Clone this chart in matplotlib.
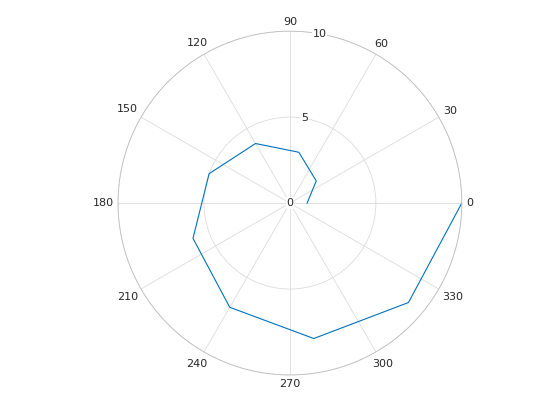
import numpy as np
import matplotlib
matplotlib.use("Agg")
import matplotlib.pyplot as plt

theta_deg = [0, 40, 80, 120, 160, 200, 240, 280, 320, 360]
r_vals = [1, 2, 3, 4, 5, 6, 7, 8, 9, 10]
theta_ticks = [0, 30, 60, 90, 120, 150, 180, 210, 240, 270, 300, 330]
r_ticks = [0, 5, 10]
r_label_angle = 80

fig = plt.figure(figsize=(5.6, 4.2), dpi=100)
ax = fig.add_axes([0.2107, 0.107, 0.614, 0.819], projection='polar')
ax.plot(np.deg2rad(theta_deg), r_vals, color='#0072BD', lw=0.8)
ax.set_ylim(0, 10)
ax.set_yticks(r_ticks)
ax.set_yticklabels([])
for t in r_ticks:
    ax.text(np.deg2rad(r_label_angle), t, str(t), fontsize=8, color='#262626',
            ha='center', va='center', zorder=5,
            bbox=dict(facecolor='white', edgecolor='none', pad=0.5))
ax.set_xticks(np.deg2rad(theta_ticks))
ax.set_xticklabels([])
ax.grid(True, color='#dcdcdc', lw=0.6)
ax.spines['polar'].set_color('#bdbdbd')
ax.spines['polar'].set_linewidth(0.6)

fig.canvas.draw()
renderer = fig.canvas.get_renderer()
gap = 4.5
for t in theta_ticks:
    a = np.deg2rad(t)
    txt = ax.annotate(str(t), xy=(a, ax.get_ylim()[1]), xytext=(0, 0),
                      textcoords='offset pixels', fontsize=8, color='#262626',
                      ha='center', va='center', annotation_clip=False)
    bb = txt.get_window_extent(renderer)
    w, h = bb.width, bb.height * 0.85
    d = gap + abs(np.cos(a)) * w / 2 + abs(np.sin(a)) * h / 2
    txt.xyann = (d * np.cos(a), d * np.sin(a))

fig.savefig('out.png', dpi=100)
